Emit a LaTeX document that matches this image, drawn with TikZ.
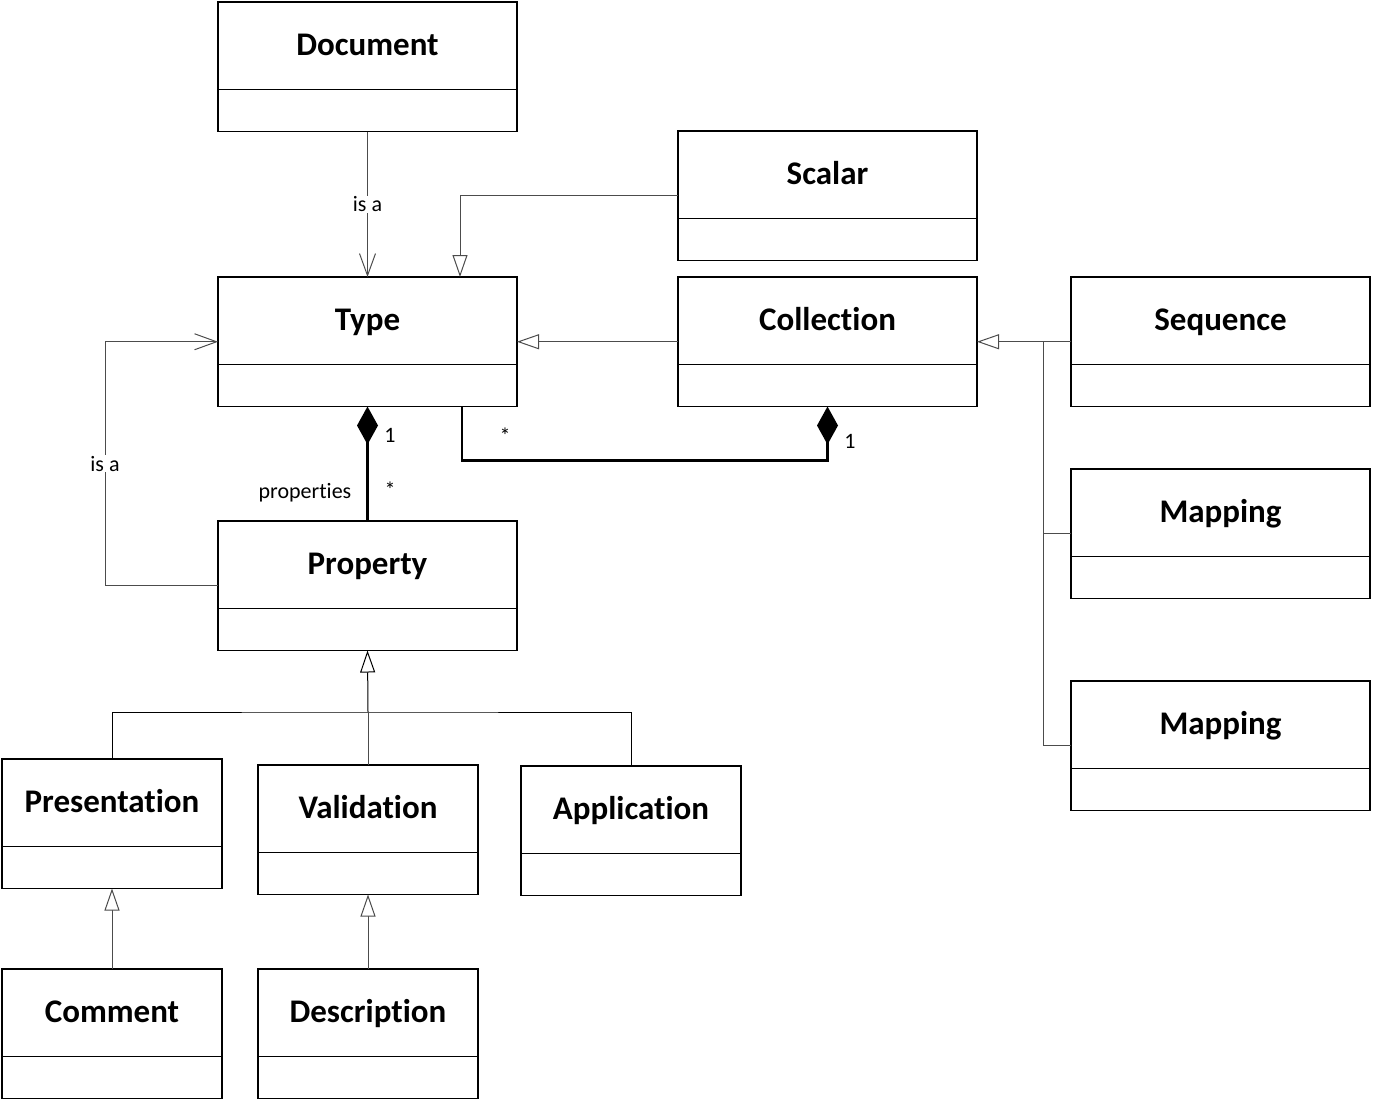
\documentclass[tikz,border=0pt]{standalone}
\usepackage{fontspec}
\setmainfont{Carlito}[Ligatures=NoCommon]
\usetikzlibrary{
  calc, % For the divider lines
  arrows.meta % For arrow tips
}

\begin{document}
\begin{tikzpicture}[
      x=1pt, y=-1pt, % Pixel-like units, y pointing down
      klasse/.style={draw, line width=1.9pt, inner sep=0pt, outer sep=0pt, minimum height=129.5pt},
      trenn/.style={line width=1.9pt},
      titel/.style={font=\fontsize{33}{36}\selectfont\bfseries, text height=21pt, text depth=6pt, inner sep=0pt},
      lbl/.style={font=\fontsize{22}{25}\selectfont, text=black, inner sep=1pt},
      conn/.style={black!70, line width=1pt},
      isa/.style={conn, -{Straight Barb[length=22pt, width=16pt, line width=1pt]}},
      gen/.style={conn, -{Triangle[open, length=22pt, width=15pt, line width=1pt, fill=white]}},
      comp/.style={black, line width=2.6pt, {Diamond[length=38pt, width=21pt]}-},
    ]

    \useasboundingbox (0,0) rectangle (1373,1100);

    % Klassen
    \foreach \n/\x/\y/\w/\t in {
        doc/218/2/299/Document,
        scal/678/131/299/Scalar,
        type/218/277/299/Type,
        coll/678/277/299/Collection,
        seq/1071/277/299/Sequence,
        mapa/1071/469/299/Mapping,
        mapb/1071/681/299/Mapping,
        prop/218/521/299/Property,
        pres/2/759/220/Presentation,
        val/258/765/220/Validation,
        app/521/766/220/Application,
        com/2/969/220/Comment,
        desc/258/969/220/Description}
    {
      \node[klasse, minimum width=\w pt, anchor=north west] (\n) at (\x,\y) {};
      \draw[trenn] ($(\n.south west)+(0,-42)$) -- ($(\n.south east)+(0,-42)$);
      \node[titel] (\n-t) at ($(\n.north)+(0,45.5)$) {\t};
    }

    % Hilfspunkte
    \coordinate (typeN) at (460,277);
    \coordinate (typeS) at (462,406);
    \coordinate (seqJ) at (1043,342);
    \coordinate (propJ) at (368,712);

    % is a
    \draw[isa] (doc.south) -- node[lbl, fill=white] {is a} (type.north);
    \draw[isa] (prop.west) -- ++(-113,0) |- node[lbl, fill=white, pos=0.25] {is a} (type.west);

    % Generalisierungen
    \draw[gen] (scal.west) -| (typeN);
    \draw[gen] (coll.west) -- (type.east);
    \draw[gen] (seq.west) -- (coll.east);
    \draw[conn] (mapa.west) -| (seqJ);
    \draw[conn] (mapb.west) -| (seqJ);
    \draw[gen, black] (propJ) -- (prop.south);
    \draw[conn, black] (pres.north) |- (propJ) -| (app.north);
    \draw[conn] (val.north) -- (propJ);
    \draw[gen] (com.north) -- (pres.south);
    \draw[gen] (desc.north) -- (val.south);

    % Kompositionen
    \draw[comp] (type.south) -- (prop.north);
    \draw[comp] (coll.south) -- ++(0,54) -| (typeS);

    % Multiplizitaeten
    \node[lbl] (m1) at (390,435) {1};
    \node[lbl] (m2) at (390,490) {*};
    \node[lbl] (rolle) at (305,493) {properties};
    \node[lbl] (m3) at (850,441) {1};
    \node[lbl] (m4) at (505,436) {*};
  \end{tikzpicture}
\end{document}
